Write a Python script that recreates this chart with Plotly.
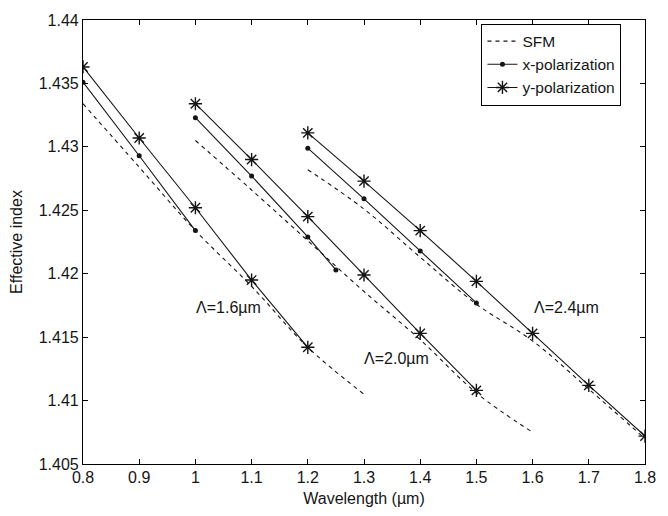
import plotly.graph_objects as go

# ---- data ----
wl_sfm_16 = [0.8, 0.9, 1.0, 1.1, 1.2, 1.3]
n_sfm_16 = [1.4334, 1.4284, 1.4234, 1.4190, 1.4142, 1.4105]
wl_x_16 = [0.8, 0.9, 1.0]
n_x_16 = [1.4351, 1.4293, 1.4234]
wl_y_16 = [0.8, 0.9, 1.0, 1.1, 1.2]
n_y_16 = [1.4363, 1.4307, 1.4252, 1.4195, 1.4142]

wl_sfm_20 = [1.0, 1.1, 1.2, 1.3, 1.4, 1.5, 1.6]
n_sfm_20 = [1.4305, 1.4266, 1.4226, 1.4186, 1.4148, 1.4106, 1.4075]
wl_x_20 = [1.0, 1.1, 1.2, 1.25]
n_x_20 = [1.4323, 1.4277, 1.4229, 1.4203]
wl_y_20 = [1.0, 1.1, 1.2, 1.3, 1.4, 1.5]
n_y_20 = [1.4334, 1.4290, 1.4245, 1.4199, 1.4153, 1.4108]

wl_sfm_24 = [1.2, 1.3, 1.4, 1.5, 1.6, 1.7, 1.8]
n_sfm_24 = [1.4282, 1.4251, 1.4213, 1.4176, 1.4147, 1.4109, 1.4070]
wl_x_24 = [1.2, 1.3, 1.4, 1.5]
n_x_24 = [1.4299, 1.4259, 1.4218, 1.4177]
wl_y_24 = [1.2, 1.3, 1.4, 1.5, 1.6, 1.7, 1.8]
n_y_24 = [1.4311, 1.4273, 1.4234, 1.4194, 1.4153, 1.4112, 1.4072]

x_ticks = [0.8, 0.9, 1.0, 1.1, 1.2, 1.3, 1.4, 1.5, 1.6, 1.7, 1.8]
x_ticktext = ["0.8", "0.9", "1", "1.1", "1.2", "1.3", "1.4", "1.5", "1.6", "1.7", "1.8"]
y_ticks = [1.405, 1.41, 1.415, 1.42, 1.425, 1.43, 1.435, 1.44]
y_ticktext = ["1.405", "1.41", "1.415", "1.42", "1.425", "1.43", "1.435", "1.44"]

labels = [("Λ=1.6µm", 1.058, 1.4173), ("Λ=2.0µm", 1.358, 1.4133), ("Λ=2.4µm", 1.660, 1.4173)]

INK = "#151515"
FONT = "Liberation Sans, Arial, sans-serif"
FS = 16

fig = go.Figure()

groups = [
    (wl_sfm_16, n_sfm_16, wl_x_16, n_x_16, wl_y_16, n_y_16),
    (wl_sfm_20, n_sfm_20, wl_x_20, n_x_20, wl_y_20, n_y_20),
    (wl_sfm_24, n_sfm_24, wl_x_24, n_x_24, wl_y_24, n_y_24),
]

for i, (ws, ns, wx, nx, wy, ny) in enumerate(groups):
    first = i == 0
    fig.add_trace(go.Scatter(
        x=ws, y=ns, mode="lines", name="SFM", legendgroup="sfm", showlegend=first,
        line=dict(color=INK, width=1.1, dash="4px,4px"), line_shape="spline"))
    fig.add_trace(go.Scatter(
        x=wx, y=nx, mode="lines+markers", name="x-polarization", legendgroup="x",
        showlegend=first,
        line=dict(color=INK, width=1.1),
        marker=dict(symbol="circle", size=5, color=INK)))
    fig.add_trace(go.Scatter(
        x=wy, y=ny, mode="lines+markers", name="y-polarization", legendgroup="y",
        showlegend=first,
        line=dict(color=INK, width=1.1),
        marker=dict(symbol="asterisk-open", size=11, color=INK,
                    line=dict(color=INK, width=1.4))))

for txt, lx, ly in labels:
    fig.add_annotation(x=lx, y=ly, text=txt, showarrow=False,
                       font=dict(family=FONT, size=FS, color=INK))

axis_common = dict(showgrid=False, zeroline=False, showline=True, mirror="ticks",
                   linecolor="#000000", linewidth=1.2, ticks="inside", ticklen=5,
                   tickcolor="#000000", tickwidth=1,
                   tickfont=dict(family=FONT, size=FS, color=INK))

fig.update_layout(
    width=668, height=516,
    margin=dict(l=83, r=13, t=12, b=50),
    paper_bgcolor="white", plot_bgcolor="white",
    font=dict(family=FONT, size=FS, color=INK),
    xaxis=dict(range=[0.8, 1.8], tickvals=x_ticks, ticktext=x_ticktext,
               ticklabelstandoff=-1,
               title=dict(text="Wavelength (µm)", standoff=7,
                          font=dict(family=FONT, size=FS, color=INK)),
               **axis_common),
    yaxis=dict(range=[1.405, 1.44], tickvals=y_ticks, ticktext=y_ticktext,
               title=dict(text="Effective index", standoff=12,
                          font=dict(family=FONT, size=FS, color=INK)),
               **axis_common),
    legend=dict(x=0.709, y=0.992, xanchor="left", yanchor="top",
                bgcolor="white", bordercolor="#000000", borderwidth=1,
                font=dict(family=FONT, size=15.5, color=INK),
                tracegroupgap=0, itemwidth=30),
    showlegend=True,
)

fig.write_html("out.html")
